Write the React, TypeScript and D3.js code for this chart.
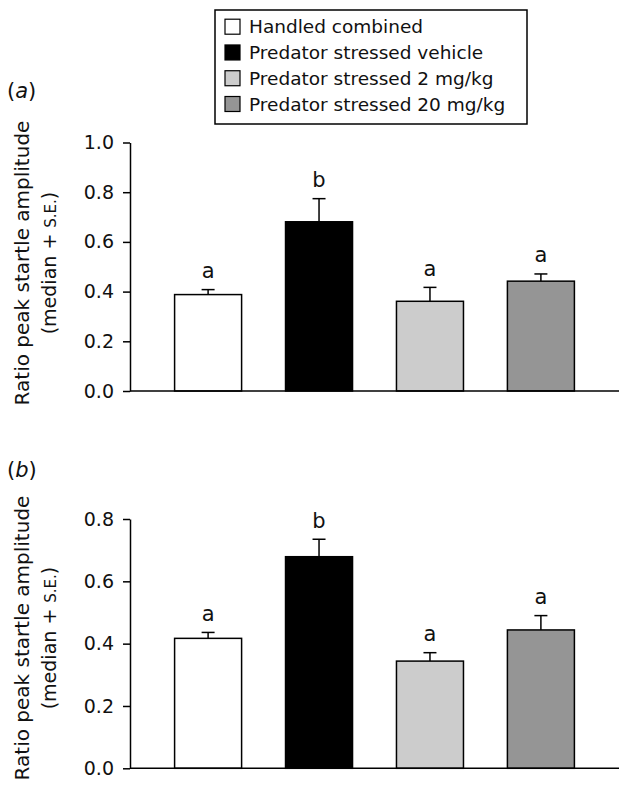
import React, { useEffect, useRef } from "react";
import * as d3 from "d3";

const categories = [
  "Handled combined",
  "Predator stressed vehicle",
  "Predator stressed 2 mg/kg",
  "Predator stressed 20 mg/kg",
];
const colors = ["#ffffff", "#000000", "#cccccc", "#959595"];

const panelAMedian = [0.388, 0.681, 0.361, 0.442];
const panelAErrTop = [0.408, 0.774, 0.417, 0.471];
const panelALetters = ["a", "b", "a", "a"];
const panelATicks = [0, 0.2, 0.4, 0.6, 0.8, 1.0];

const panelBMedian = [0.417, 0.679, 0.344, 0.444];
const panelBErrTop = [0.436, 0.735, 0.371, 0.49];
const panelBLetters = ["a", "b", "a", "a"];
const panelBTicks = [0, 0.2, 0.4, 0.6, 0.8];

const FONT = "'DejaVu Sans', sans-serif";
const AXIS_X = 130;
const AXIS_RIGHT = 619;

type PanelProps = {
  label: string;
  median: number[];
  errTop: number[];
  letters: string[];
  ticks: number[];
  yMax: number;
  yBottom: number;
  yTop: number;
  labelY: number;
  titleCenter: number;
};

function Panel(p: PanelProps) {
  const axisRef = useRef<SVGGElement>(null);
  const x = d3
    .scaleBand<string>()
    .domain(categories)
    .range([AXIS_X, AXIS_RIGHT])
    .paddingInner(0.396)
    .paddingOuter(0.402);
  const y = d3.scaleLinear().domain([0, p.yMax]).range([p.yBottom, p.yTop]);

  useEffect(() => {
    if (!axisRef.current) return;
    const g = d3.select(axisRef.current);
    g.selectAll("*").remove();
    g.call(
      d3
        .axisLeft(y)
        .tickValues(p.ticks)
        .tickSize(7)
        .tickSizeOuter(0)
        .tickPadding(9)
        .tickFormat(d3.format(".1f") as any)
    );
    g.select(".domain").attr("stroke", "#000").attr("stroke-width", 1.5);
    g.selectAll(".tick line").attr("stroke", "#000").attr("stroke-width", 1.5);
    g.selectAll(".tick text")
      .attr("font-family", FONT)
      .attr("font-size", 19)
      .attr("fill", "#111");
  }, []);

  const tc = p.titleCenter;
  return (
    <g>
      <text x={7} y={p.labelY} fontFamily={FONT} fontSize={21} fill="#111">
        (<tspan fontStyle="italic">{p.label}</tspan>)
      </text>
      <text
        transform={`translate(29,${tc}) rotate(-90)`}
        textAnchor="middle"
        fontFamily={FONT}
        fontSize={20}
        fill="#111"
      >
        Ratio peak startle amplitude
      </text>
      <text
        transform={`translate(55.5,${tc}) rotate(-90)`}
        textAnchor="middle"
        fontFamily={FONT}
        fontSize={19}
        fill="#111"
      >
        (median + <tspan fontSize={15}>S.E.</tspan>)
      </text>
      {categories.map((c, i) => {
        const bx = x(c)!;
        const bw = x.bandwidth();
        const cx = bx + bw / 2;
        return (
          <g key={c}>
            <line
              x1={cx}
              x2={cx}
              y1={y(p.median[i])}
              y2={y(p.errTop[i])}
              stroke="#000"
              strokeWidth={1.5}
            />
            <line
              x1={cx - 6.5}
              x2={cx + 6.5}
              y1={y(p.errTop[i])}
              y2={y(p.errTop[i])}
              stroke="#000"
              strokeWidth={1.5}
            />
            <rect
              x={bx}
              y={y(p.median[i])}
              width={bw}
              height={y(0) - y(p.median[i])}
              fill={colors[i]}
              stroke="#000"
              strokeWidth={1.5}
            />
            <text
              x={cx}
              y={y(p.errTop[i]) - 11.5}
              textAnchor="middle"
              fontFamily={FONT}
              fontSize={21}
              fill="#111"
            >
              {p.letters[i]}
            </text>
          </g>
        );
      })}
      <line
        x1={AXIS_X}
        x2={AXIS_RIGHT}
        y1={y(0)}
        y2={y(0)}
        stroke="#000"
        strokeWidth={1.5}
      />
      <g ref={axisRef} transform={`translate(${AXIS_X},0)`} />
    </g>
  );
}

function Legend() {
  const rowY = d3.scalePoint<string>().domain(categories).range([26.7, 104]);
  return (
    <g>
      <rect
        x={215}
        y={10}
        width={312}
        height={114}
        fill="#fff"
        stroke="#000"
        strokeWidth={1.5}
      />
      {categories.map((c, i) => (
        <g key={c}>
          <rect
            x={225}
            y={rowY(c)! - 7.5}
            width={15}
            height={15}
            fill={colors[i]}
            stroke="#000"
            strokeWidth={1.2}
          />
          <text
            x={249}
            y={rowY(c)!}
            dy="0.36em"
            fontFamily={FONT}
            fontSize={18.5}
            fill="#111"
          >
            {c}
          </text>
        </g>
      ))}
    </g>
  );
}

export default function App() {
  return (
    <svg
      width={629}
      height={801}
      style={{ position: "absolute", left: 0, top: 0, background: "#fff" }}
    >
      <rect x={0} y={0} width={629} height={801} fill="#fff" />
      <Legend />
      <Panel
        label="a"
        median={panelAMedian}
        errTop={panelAErrTop}
        letters={panelALetters}
        ticks={panelATicks}
        yMax={1.0}
        yBottom={391}
        yTop={142.5}
        labelY={98}
        titleCenter={263}
      />
      <Panel
        label="b"
        median={panelBMedian}
        errTop={panelBErrTop}
        letters={panelBLetters}
        ticks={panelBTicks}
        yMax={0.8}
        yBottom={768.3}
        yTop={519}
        labelY={477}
        titleCenter={638}
      />
    </svg>
  );
}
